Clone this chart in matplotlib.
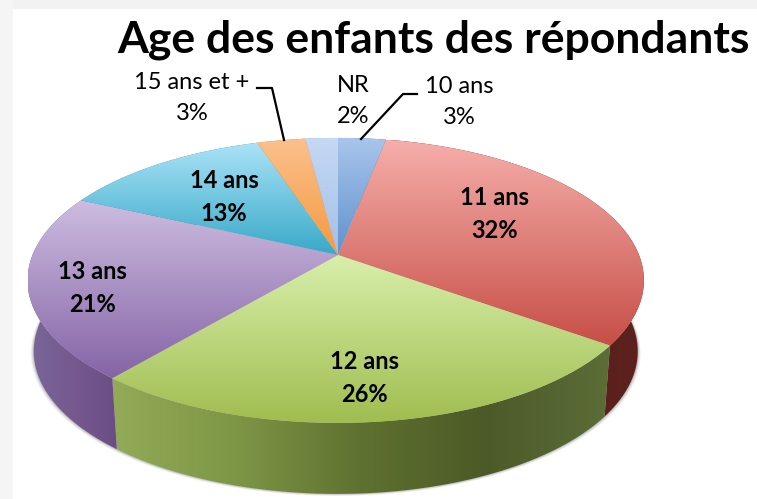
import matplotlib.pyplot as plt
import numpy as np
from matplotlib.colors import LinearSegmentedColormap
from matplotlib.patches import Polygon, Rectangle

categories = ['10 ans', '11 ans', '12 ans', '13 ans', '14 ans', '15 ans et +', 'NR']
values = [3, 32, 26, 21, 13, 3, 2]

# top face gradients, light to dark going down each slice
top_colors = [
    ['#a9c5ec', '#5f92cc'],
    ['#f6aeaa', '#c64f47'],
    ['#d8efaa', '#a0bd50'],
    ['#cdbde0', '#8564a6'],
    ['#abe3f7', '#37a9c8'],
    ['#fbc08e', '#f59a3e'],
    ['#c6d9f5', '#a3bfe6'],
]
side_colors = [
    ['#5f87b8', '#4f78a8'],
    ['#6c1f1b', '#561d19', '#5e221e'],
    ['#93ab58', '#7d9645', '#5f7130', '#4c5a27', '#5c6d38'],
    ['#7a6699', '#75598f', '#6a4d85'],
    ['#3c93ad', '#2f8ba6'],
    ['#cf8434', '#c37a2d'],
    ['#8fa9cc', '#809cc2'],
]
# where each label goes: inside labels are bold
label_pos = [(459, 102), (495, 214), (364, 378), (92, 288), (224, 197), (192, 98), (353, 101)]
label_bold = [False, True, True, True, True, False, False]

cx, cy = 338, 255
f, g, k = 301, 138, 0.178
left_stretch = 1.015
depth = 71
shrink = 0.98

plt.rcParams['font.family'] = ['Lato', 'DejaVu Sans']


def rim(t):
    # circle seen in perspective, t clockwise from the back of the pie
    xx, yy = np.sin(t), np.cos(t)
    d = 1 + k * yy
    dx = f * xx / d
    return cx + np.where(dx < 0, dx * left_stretch, dx), cy - g * yy / d


def gradient(ax, cols, patch, horizontal, z):
    ax.add_patch(patch)
    xy = patch.get_xy()
    cmap = LinearSegmentedColormap.from_list('c', cols)
    ramp = np.linspace(0, 1, 256)
    ramp = ramp[None, :] if horizontal else ramp[:, None]
    im = ax.imshow(ramp, cmap=cmap, aspect='auto', zorder=z, interpolation='bilinear',
                   extent=[xy[:, 0].min(), xy[:, 0].max(), xy[:, 1].max(), xy[:, 1].min()])
    im.set_clip_path(patch)


def plot():
    fig = plt.figure(figsize=(7.57, 4.99), dpi=100, facecolor='white')
    ax = fig.add_axes([0, 0, 1, 1])
    ax.axis('off')

    # grey slide edge
    ax.add_patch(Rectangle((0, 0), 757, 9, color='#f2f2f2', lw=0, zorder=0))
    ax.add_patch(Rectangle((0, 0), 13, 499, color='#f5f5f5', lw=0, zorder=0))

    edges = np.cumsum([0] + values) / sum(values) * 2 * np.pi

    # soft shadow under the outer edge
    tt = np.linspace(0, 2 * np.pi, 400)
    rx, ry = rim(tt)
    for grow, alpha in zip([3, 2, 1], [0.05, 0.08, 0.12]):
        sx = cx + shrink * (rx - cx) * (1 + grow / 300)
        sy = ry + depth + grow * 0.7
        ax.add_patch(Polygon(np.c_[sx, sy], closed=True, color='k', alpha=alpha, lw=0, zorder=1))

    # side walls first, top faces hide the back part of them
    for i in range(len(values)):
        t = np.linspace(edges[i], edges[i + 1], 120)
        x, y = rim(t)
        bx = cx + shrink * (x - cx)
        by = y + depth
        poly = np.r_[np.c_[x, y], np.c_[bx, by][::-1]]
        gradient(ax, side_colors[i], Polygon(poly, closed=True, fc='none', ec='none'), True, 2)

    for i in range(len(values)):
        t = np.linspace(edges[i], edges[i + 1], 120)
        x, y = rim(t)
        poly = np.r_[[[cx, cy]], np.c_[x, y]]
        gradient(ax, top_colors[i], Polygon(poly, closed=True, fc='none', ec='none'), False, 3)

    # leader lines
    ax.plot([257, 272, 284], [88, 88, 140], color='k', lw=1.6, zorder=4, solid_joinstyle='round')
    ax.plot([417, 403, 361], [94, 94, 139], color='k', lw=1.6, zorder=4, solid_joinstyle='round')

    for name, val, pos, bold in zip(categories, values, label_pos, label_bold):
        ax.text(pos[0], pos[1], '{0}\n{1}%'.format(name, val), ha='center', va='center',
                fontsize=17, fontweight='bold' if bold else 'normal', color='k',
                linespacing=1.55, zorder=5)

    ax.text(433.5, 40, 'Age des enfants des répondants', ha='center', va='center',
            fontsize=32, fontweight='bold', color='k', zorder=5)

    ax.set_xlim(0, 757)
    ax.set_ylim(499, 0)
    fig.savefig('out.png', dpi=100)


if __name__ == '__main__':
    plot()
